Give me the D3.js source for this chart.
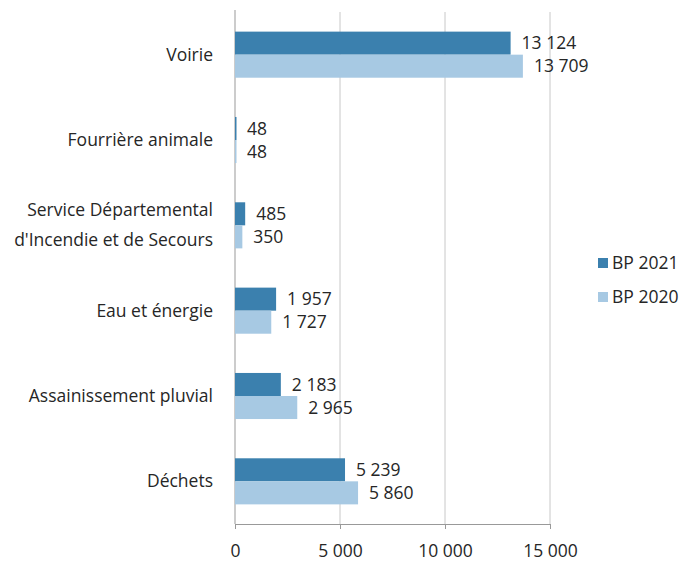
<!DOCTYPE html>
<html>
<head>
<meta charset="utf-8">
<script src="https://cdn.jsdelivr.net/npm/d3@7"></script>
<style>
  body { margin: 0; background: #fff; }
  text { font-family: "Open Sans", "Noto Sans", sans-serif; fill: #262626; }
</style>
</head>
<body>
<svg id="chart" width="698" height="562"></svg>
<script>
// categories top to bottom
const categories = ["Voirie", "Fourrière animale", "Service Départemental\nd'Incendie et de Secours", "Eau et énergie", "Assainissement pluvial", "Déchets"];
const bp2021 = [13124, 48, 485, 1957, 2183, 5239];
const bp2020 = [13709, 48, 350, 1727, 2965, 5860];
const seriesNames = ["BP 2021", "BP 2020"];
const tickValues = [0, 5000, 10000, 15000];

const colors = ["#3b80ae", "#a7c9e3"];
const fontSize = "17.5px";

let svg = d3.select("#chart");
const margin = {left: 235, top: 12, right: 148, bottom: 38};
const width = 698 - margin.left - margin.right,
      height = 562 - margin.top - margin.bottom;

let g = svg.append("g").attr("transform", `translate(${margin.left},${margin.top})`);

let x = d3.scaleLinear().domain([0, 15000]).range([0, 315]);
let y = d3.scaleBand().domain(categories).range([0, height]).paddingInner(0.46).paddingOuter(0.23);
let ySub = d3.scaleBand().domain(seriesNames).range([0, y.bandwidth()]);

const fmt = function(v) { return d3.format(",")(v).replace(/,/g, " "); };

// gridlines
g.append("g")
  .selectAll("line")
  .data(tickValues.slice(1))
  .enter().append("line")
  .attr("x1", d => x(d)).attr("x2", d => x(d))
  .attr("y1", 0).attr("y2", height)
  .style("stroke", "#c8c8c8").style("stroke-width", 1);

// x axis
let xAxis = g.append("g")
  .attr("transform", `translate(0,${height})`)
  .call(d3.axisBottom(x).tickValues(tickValues).tickSize(5).tickFormat(fmt));
xAxis.select(".domain").style("stroke", "#999");
xAxis.selectAll(".tick line").style("stroke", "#999");
xAxis.selectAll("text").style("font-size", fontSize).style("font-family", null).attr("dy", "1.45em").style("fill", "#262626");

// y axis line
g.append("line")
  .attr("x1", 0).attr("x2", 0).attr("y1", -2).attr("y2", height)
  .style("stroke", "#999");

// bars
let rows = categories.map(function(c, i) {
  return {cat: c, vals: [bp2021[i], bp2020[i]]};
});

let groups = g.selectAll(".row")
  .data(rows)
  .enter().append("g")
  .attr("class", "row")
  .attr("transform", d => `translate(0,${y(d.cat)})`);

groups.selectAll("rect")
  .data(d => d.vals.map((v, k) => ({v: v, s: seriesNames[k], k: k})))
  .enter().append("rect")
  .attr("x", 0)
  .attr("y", d => ySub(d.s))
  .attr("width", d => Math.max(x(d.v), 1.5))
  .attr("height", ySub.bandwidth())
  .style("fill", d => colors[d.k]);

groups.selectAll(".val")
  .data(d => d.vals.map((v, k) => ({v: v, s: seriesNames[k], k: k})))
  .enter().append("text")
  .attr("class", "val")
  .attr("x", d => x(d.v) + 11)
  .attr("y", d => ySub(d.s) + ySub.bandwidth() / 2)
  .attr("dy", "0.35em")
  .style("font-size", fontSize)
  .text(d => fmt(d.v));

// category labels
groups.append("text")
  .attr("text-anchor", "end")
  .attr("x", -22)
  .style("font-size", fontSize)
  .each(function(d) {
    const lines = d.cat.split("\n");
    const mid = y.bandwidth() / 2;
    const start = mid - (lines.length - 1) * 15;
    d3.select(this).selectAll("tspan")
      .data(lines)
      .enter().append("tspan")
      .attr("x", -22)
      .attr("y", (l, i) => start + i * 30)
      .attr("dy", "0.35em")
      .text(l => l);
  });

// legend
let legend = svg.append("g").attr("transform", "translate(598,263)");
seriesNames.forEach(function(s, i) {
  let item = legend.append("g").attr("transform", `translate(0,${i * 34})`);
  item.append("rect").attr("x", 0).attr("y", -5).attr("width", 10).attr("height", 10).style("fill", colors[i]);
  item.append("text").attr("x", 14).attr("dy", "0.35em").style("font-size", fontSize).text(s);
});
</script>
</body>
</html>
